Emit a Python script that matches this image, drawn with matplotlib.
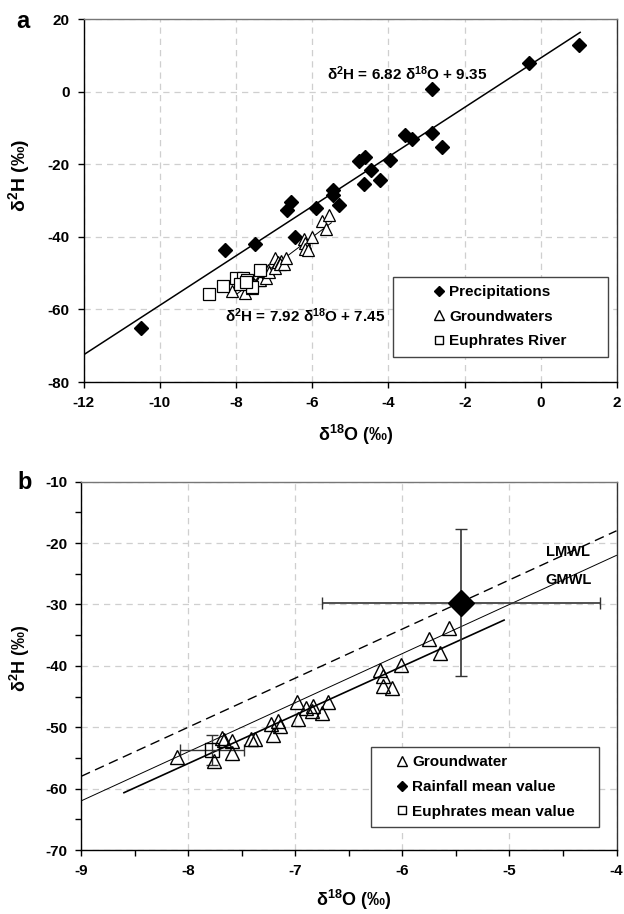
import numpy as np
import matplotlib
matplotlib.use("Agg")
import matplotlib.pyplot as plt
from matplotlib.patches import Rectangle

plt.rcParams['font.family'] = ['Liberation Sans', 'DejaVu Sans']
plt.rcParams['font.weight'] = 'bold'
plt.rcParams['axes.labelweight'] = 'bold'
plt.rcParams['axes.unicode_minus'] = False
plt.rcParams['mathtext.fontset'] = 'custom'
plt.rcParams['mathtext.rm'] = 'Liberation Sans:bold'
plt.rcParams['mathtext.bf'] = 'Liberation Sans:bold'
plt.rcParams['mathtext.default'] = 'rm'

# panel a: precipitations (d18O, d2H)
prec_o = [-10.5, -8.3, -7.5, -6.45, -6.65, -6.55, -5.9, -5.45, -5.45, -5.3,
          -4.78, -4.62, -4.64, -4.47, -4.22, -3.96, -3.57, -3.38, -2.85, -2.59,
          -2.85, -0.3, 1.0]
prec_h = [-65, -43.5, -42, -40, -32.5, -30.5, -32, -27, -28.5, -31.2,
          -19, -18, -25.3, -21.5, -24.2, -18.8, -11.8, -13, -11.5, -15.2,
          0.8, 8, 13]

# groundwaters (same set in both panels)
gw_o = [-8.10, -7.76, -7.68, -7.67, -7.59, -7.59, -7.41, -7.38, -7.23, -7.21,
        -7.16, -7.14, -6.98, -6.97, -6.90, -6.83, -6.84, -6.75, -6.69, -6.21,
        -6.18, -6.18, -6.10, -6.01, -5.75, -5.65, -5.56]
gw_h = [-54.8, -55.5, -51.8, -52.0, -52.2, -54.2, -51.9, -51.9, -49.4, -51.2,
        -49.0, -49.8, -45.9, -48.7, -46.9, -46.6, -47.4, -47.6, -45.9, -40.7,
        -41.6, -43.3, -43.6, -39.9, -35.6, -37.9, -33.9]

# Euphrates river samples
eu_o = [-8.71, -8.34, -8.01, -7.83, -7.72, -7.37, -7.59, -7.9, -7.75]
eu_h = [-55.8, -53.6, -51.4, -51.4, -51.9, -49.1, -53.9, -53.0, -52.5]

# regression lines
prec_slope, prec_int = 6.82, 9.35
gw_slope, gw_int = 7.92, 7.45
lmwl_slope, lmwl_int = 8.0, 14.0
gmwl_slope, gmwl_int = 8.0, 10.0

# panel b mean values
rain_mean = (-5.45, -29.7)
rain_err = (1.3, 12.0)
eu_mean = (-7.78, -53.7)
eu_err = (0.3, 2.4)

xticks_a = [-12, -10, -8, -6, -4, -2, 0, 2]
yticks_a = [-80, -60, -40, -20, 0, 20]
xticks_b = [-9, -8, -7, -6, -5, -4]
yticks_b = [-70, -60, -50, -40, -30, -20, -10]

XLAB = r'δ$^{18}$O (‰)'
YLAB = r'δ$^{2}$H (‰)'

fig = plt.figure(figsize=(6.24, 9.14), dpi=100)
axa = fig.add_axes([0.134, 0.582, 0.855, 0.397])
axb = fig.add_axes([0.130, 0.070, 0.858, 0.403])

def style(ax, xt, yt):
    ax.set_xticks(xt, labels=[str(v) for v in xt], fontweight='bold', fontsize=11)
    ax.set_yticks(yt, labels=[str(v) for v in yt], fontweight='bold', fontsize=11)
    ax.grid(True, color='#cfcfcf', ls=(0, (5, 4)), lw=0.9)
    ax.set_axisbelow(True)
    ax.tick_params(direction='out', length=4, width=1, pad=6)
    ax.spines['top'].set_color('#777777')
    ax.spines['right'].set_color('#333333')
    for s in ax.spines.values():
        s.set_linewidth(1.0)

# ---- panel a
xl = np.array([-12, 1.03])
axa.plot(xl, prec_slope * xl + prec_int, color='black', lw=1.1, zorder=2)
xg = np.array([-8.1, -5.5])
axa.plot(xg, gw_slope * xg + gw_int, color='black', lw=0.7, zorder=2)
axa.plot(prec_o, prec_h, 'D', color='black', ms=7, zorder=3)
axa.plot(gw_o, gw_h, '^', mfc='white', mec='black', mew=0.9, ms=8, zorder=4)
axa.plot(eu_o, eu_h, 's', mfc='white', mec='black', mew=0.9, ms=8, zorder=5)
axa.set_xlim(-12, 2)
axa.set_ylim(-80, 20)
style(axa, xticks_a, yticks_a)
axa.text(-5.62, 5.0, r'δ$^{2}$H = 6.82 δ$^{18}$O + 9.35', fontsize=11, va='center')
axa.text(-8.3, -61.6, r'δ$^{2}$H = 7.92 δ$^{18}$O + 7.45', fontsize=11, va='center')
axa.set_xlabel(XLAB, fontsize=13)
axa.set_ylabel(YLAB, fontsize=14)
axa.xaxis.set_label_coords(0.51, -0.112)
axa.yaxis.set_label_coords(-0.097, 0.57)
axa.add_patch(Rectangle((0.579, 0.070), 0.403, 0.220, transform=axa.transAxes,
                        fc='white', ec='#444444', lw=1.0, zorder=6))
ha = [plt.Line2D([], [], ls='', marker='D', color='black', ms=5),
      plt.Line2D([], [], ls='', marker='^', mfc='white', mec='black', ms=6.5),
      plt.Line2D([], [], ls='', marker='s', mfc='white', mec='black', ms=5.5)]
leg = axa.legend(ha, ['Precipitations', 'Groundwaters', 'Euphrates River'],
                 loc='center', bbox_to_anchor=(0.78, 0.18), frameon=False,
                 prop={'size': 11, 'weight': 'bold'}, handlelength=0.8,
                 handletextpad=0.3, labelspacing=0.7)
leg.set_zorder(7)
fig.text(0.037, 0.977, 'a', fontsize=17, fontweight='bold', ha='center', va='center')

# ---- panel b
xx = np.array([-9, -4])
axb.plot(xx, lmwl_slope * xx + lmwl_int, color='black', lw=1.0, ls=(0, (7, 4)), zorder=2)
axb.plot(xx, gmwl_slope * xx + gmwl_int, color='black', lw=0.7, zorder=2)
xr = np.array([-8.6, -5.05])
axb.plot(xr, gw_slope * xr + gw_int, color='black', lw=1.2, zorder=2)
axb.plot(gw_o, gw_h, '^', mfc='none', mec='black', mew=1.0, ms=10, zorder=4)
axb.errorbar([eu_mean[0]], [eu_mean[1]], xerr=[eu_err[0]], yerr=[eu_err[1]],
             fmt='s', mfc='none', mec='black', ms=10, ecolor='#333333',
             elinewidth=1.0, capsize=4, zorder=3)
axb.errorbar([rain_mean[0]], [rain_mean[1]], xerr=[rain_err[0]], yerr=[rain_err[1]],
             fmt='D', color='black', ms=13, ecolor='#333333',
             elinewidth=1.2, capsize=4.5, zorder=5)
axb.set_xlim(-9, -4)
axb.set_ylim(-70, -10)
style(axb, xticks_b, yticks_b)
axb.set_xticks(np.arange(-8.5, -4, 1), minor=True)
axb.set_yticks(np.arange(-65, -10, 10), minor=True)
axb.tick_params(which='minor', direction='out', length=4, width=1)
axb.text(-4.66, -21.4, 'LMWL', fontsize=10.5, va='center')
axb.text(-4.66, -26.0, 'GMWL', fontsize=10.5, va='center')
axb.set_xlabel(XLAB, fontsize=13)
axb.set_ylabel(YLAB, fontsize=13)
axb.xaxis.set_label_coords(0.51, -0.104)
axb.yaxis.set_label_coords(-0.092, 0.52)
axb.add_patch(Rectangle((0.542, 0.062), 0.426, 0.218, transform=axb.transAxes,
                        fc='white', ec='#444444', lw=1.0, zorder=6))
hb = [plt.Line2D([], [], ls='', marker='^', mfc='white', mec='black', ms=6.5),
      plt.Line2D([], [], ls='', marker='D', color='black', ms=5),
      plt.Line2D([], [], ls='', marker='s', mfc='white', mec='black', ms=5.5)]
leg = axb.legend(hb, ['Groundwater', 'Rainfall mean value', 'Euphrates mean value'],
                 loc='center', bbox_to_anchor=(0.755, 0.171), frameon=False,
                 prop={'size': 11, 'weight': 'bold'}, handlelength=0.8,
                 handletextpad=0.3, labelspacing=0.7)
leg.set_zorder(7)
fig.text(0.040, 0.472, 'b', fontsize=17, fontweight='bold', ha='center', va='center')

fig.savefig('out.png', dpi=100)
